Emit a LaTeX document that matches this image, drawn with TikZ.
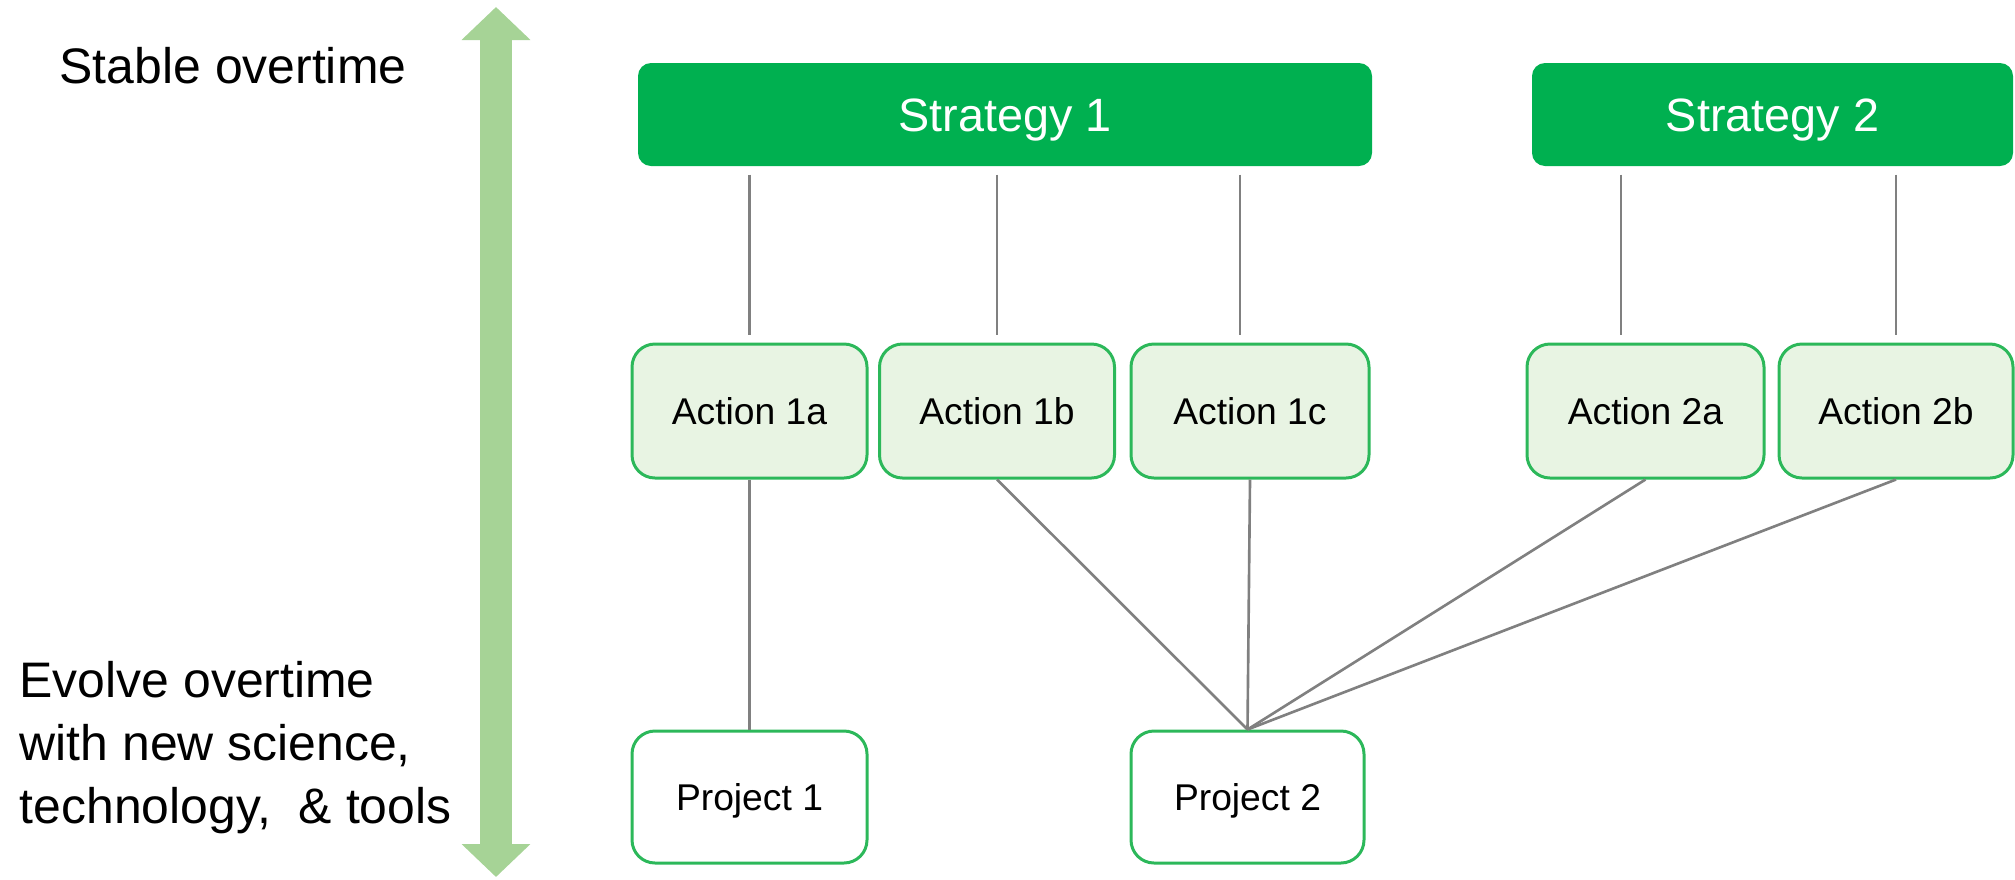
\documentclass[tikz,border=0pt]{standalone}
\usepackage{fontspec}
\setmainfont{Liberation Sans}
\usetikzlibrary{arrows.meta}

\definecolor{stratgreen}{HTML}{00B050}
\definecolor{boxline}{HTML}{2CB85A}
\definecolor{actfill}{HTML}{E8F4E3}
\definecolor{arrowgreen}{HTML}{A6D396}
\definecolor{linkgray}{HTML}{808080}

\tikzset{
  stratbox/.style={rectangle, rounded corners=0.13cm, fill=stratgreen, text=white,
    minimum height=1.03cm, inner sep=0pt, text height=0.336cm, text depth=0pt,
    font=\fontsize{13.3}{16}\selectfont},
  actbox/.style={rectangle, rounded corners=0.23cm, draw=boxline, line width=0.85pt,
    fill=actfill, minimum width=2.35cm, minimum height=1.34cm, inner sep=0pt,
    text height=0.267cm, text depth=0pt, font=\fontsize{10.6}{13}\selectfont},
  projbox/.style={actbox, fill=white, minimum height=1.32cm},
  link/.style={draw=linkgray, line width=0.75pt},
  uplink/.style={link, shorten <=0.08cm, shorten >=0.08cm}
}

\begin{document}
\begin{tikzpicture}[x=1cm,y=1cm]
\useasboundingbox (0,0) rectangle (20.15,8.79);

% time arrow
\coordinate (top) at (4.96,8.72);
\coordinate (bot) at (4.96,0.02);
\draw[arrowgreen, line width=0.32cm,
  {Triangle[width=0.67cm,length=0.33cm]}-{Triangle[width=0.67cm,length=0.33cm]}] (bot) -- (top);

\node[anchor=base west, inner sep=0pt, font=\fontsize{14.2}{17.8}\selectfont] (stable) at (0.59,7.96) {Stable overtime};
\node[anchor=base west, inner sep=0pt, align=left, font=\fontsize{14.2}{17.8}\selectfont] (evolve) at (0.19,0.56)
  {Evolve overtime\\with new science,\\technology,\ \ \& tools};

% strategies
\node[stratbox, minimum width=7.34cm] (strat1) at (10.05,7.645) {Strategy 1};
\node[stratbox, minimum width=4.81cm] (strat2) at (17.725,7.645) {Strategy 2};

% actions
\node[actbox] (act1a) at (7.495,4.68) {Action 1a};
\node[actbox] (act1b) at (9.97,4.68) {Action 1b};
\node[actbox, minimum width=2.38cm] (act1c) at (12.50,4.68) {Action 1c};
\node[actbox, minimum width=2.37cm] (act2a) at (16.455,4.68) {Action 2a};
\node[actbox, minimum width=2.34cm] (act2b) at (18.96,4.68) {Action 2b};

% projects
\node[projbox] (proj1) at (7.495,0.82) {Project 1};
\node[projbox, minimum width=2.33cm] (proj2) at (12.475,0.82) {Project 2};

% strategy -> action
\draw[uplink] (act1a.north |- strat1.south) -- (act1a.north);
\draw[uplink] (act1b.north |- strat1.south) -- (act1b.north);
\draw[uplink] ([xshift=-0.10cm]act1c.north |- strat1.south) -- ([xshift=-0.10cm]act1c.north);
\draw[uplink] ([xshift=-0.245cm]act2a.north |- strat2.south) -- ([xshift=-0.245cm]act2a.north);
\draw[uplink] (act2b.north |- strat2.south) -- (act2b.north);

% action -> project
\draw[link] (act1a.south) -- (proj1.north);
\foreach \a in {act1b,act1c,act2a,act2b}
  \draw[link] (\a.south) -- (proj2.north);
\end{tikzpicture}
\end{document}
